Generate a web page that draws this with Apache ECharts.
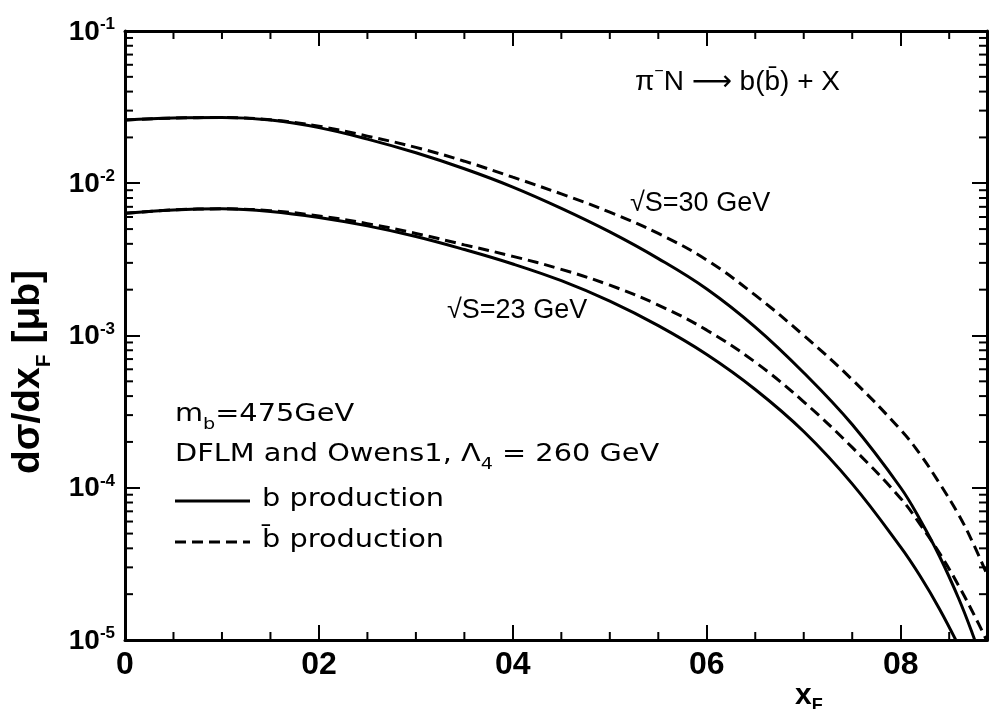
<!DOCTYPE html>
<html><head><meta charset="utf-8">
<script src="https://cdn.jsdelivr.net/npm/echarts@6/dist/echarts.min.js"></script>
<style>html,body{margin:0;padding:0;background:#fff}#c{width:991px;height:709px}</style>
</head><body><div id="c"></div>
<script>
// ---- tick labels ----
const xTickValues = [0, 0.2, 0.4, 0.6, 0.8];
const xTickLabels = ['0', '02', '04', '06', '08'];
const yTickValues = [1e-5, 1e-4, 1e-3, 1e-2, 1e-1];
const yTickExponents = ['-5', '-4', '-3', '-2', '-1'];
const xMinorTicks = [0.05, 0.1, 0.15, 0.25, 0.3, 0.35, 0.45, 0.5, 0.55, 0.65, 0.7, 0.75, 0.85];
const yMinorTicks = [2e-5,3e-5,4e-5,5e-5,6e-5,7e-5,8e-5,9e-5,
                     2e-4,3e-4,4e-4,5e-4,6e-4,7e-4,8e-4,9e-4,
                     2e-3,3e-3,4e-3,5e-3,6e-3,7e-3,8e-3,9e-3,
                     2e-2,3e-2,4e-2,5e-2,6e-2,7e-2,8e-2,9e-2];

// ---- sqrt(S)=30 GeV, b production (solid) ----
const x30b = [0, 0.05, 0.1, 0.15, 0.2, 0.25, 0.3, 0.35, 0.4, 0.45, 0.5, 0.55, 0.6, 0.65, 0.7, 0.75, 0.8, 0.82, 0.84, 0.86, 0.874, 0.885];
const y30b = [0.0260, 0.0268, 0.0270, 0.0260, 0.0232, 0.0195, 0.01585, 0.01245, 0.00944, 0.00684, 0.00479, 0.00320, 0.00202, 0.001135, 5.69e-4, 2.60e-4, 1.0e-4, 6.17e-5, 3.55e-5, 1.86e-5, 1.10e-5, 6.92e-6];
// ---- sqrt(S)=30 GeV, bbar production (dashed) ----
const x30bbar = [0, 0.05, 0.1, 0.15, 0.2, 0.25, 0.3, 0.35, 0.4, 0.45, 0.5, 0.55, 0.6, 0.65, 0.7, 0.75, 0.8, 0.82, 0.84, 0.86, 0.875, 0.889];
const y30bbar = [0.0260, 0.0268, 0.0270, 0.0261, 0.0237, 0.0204, 0.0172, 0.01396, 0.01096, 0.00851, 0.00646, 0.00468, 0.00313, 0.00184, 1.0e-3, 5.13e-4, 2.40e-4, 1.66e-4, 1.07e-4, 6.61e-5, 4.27e-5, 2.69e-5];
// ---- sqrt(S)=23 GeV, b production (solid) ----
const x23b = [0, 0.05, 0.1, 0.15, 0.2, 0.25, 0.3, 0.35, 0.4, 0.45, 0.5, 0.55, 0.6, 0.65, 0.7, 0.75, 0.8, 0.82, 0.84, 0.86];
const y23b = [0.00635, 0.00668, 0.00679, 0.00653, 0.00596, 0.00525, 0.00447, 0.00367, 0.00295, 0.00229, 0.00168, 0.00116, 7.50e-4, 4.42e-4, 2.34e-4, 1.06e-4, 4.07e-5, 2.63e-5, 1.60e-5, 9.12e-6];
// ---- sqrt(S)=23 GeV, bbar production (dashed) ----
const x23bbar = [0, 0.05, 0.1, 0.15, 0.2, 0.25, 0.3, 0.35, 0.4, 0.45, 0.5, 0.55, 0.6, 0.65, 0.7, 0.75, 0.8, 0.82, 0.84, 0.86, 0.88, 0.895];
const y23bbar = [0.00635, 0.00668, 0.00679, 0.00661, 0.00610, 0.00543, 0.00468, 0.00394, 0.00331, 0.00272, 0.00214, 0.001585, 0.001084, 6.68e-4, 3.67e-4, 1.84e-4, 8.51e-5, 5.75e-5, 3.72e-5, 2.26e-5, 1.29e-5, 8.13e-6];

const FONT = '"Liberation Sans", "DejaVu Sans", sans-serif';
const LFONT = '"DejaVu Sans", "Liberation Sans", sans-serif';
const LSCALE = 1.2;
const pairs = (xs, ys) => xs.map((x, i) => [x, ys[i]]);

function curve(name, xs, ys, dashed) {
  return {
    name, type: 'line', data: pairs(xs, ys), showSymbol: false, smooth: 0.4,
    silent: true, z: 3, clip: true,
    lineStyle: { color: '#000', width: 3, type: dashed ? [11, 6] : 'solid' }
  };
}

const chart = echarts.init(document.getElementById('c'), null, { renderer: 'canvas' });

const axisLine = { show: true, onZero: false, lineStyle: { color: '#000', width: 3 } };
const majorTick = { show: true, inside: true, length: 15, lineStyle: { color: '#000', width: 2 } };

const option = {
  backgroundColor: '#fff',
  animation: false,
  grid: { left: 125, right: 4, top: 31, bottom: 69 },
  xAxis: [
    { type: 'value', min: 0, max: 0.889, interval: 0.2, position: 'bottom',
      axisLine, axisTick: majorTick, splitLine: { show: false },
      axisLabel: { color: '#000', fontSize: 32, fontWeight: 'bold', fontFamily: FONT, margin: 9,
        formatter: v => { const i = xTickValues.findIndex(t => Math.abs(t - v) < 1e-6); return i >= 0 ? xTickLabels[i] : ''; } } },
    { type: 'value', min: 0, max: 0.889, interval: 0.2, position: 'top',
      axisLine, axisTick: majorTick, splitLine: { show: false }, axisLabel: { show: false } }
  ],
  yAxis: [
    { type: 'log', logBase: 10, min: 1e-5, max: 1e-1, position: 'left',
      axisLine, axisTick: majorTick, splitLine: { show: false },
      axisLabel: { color: '#000', fontFamily: FONT, margin: 10,
        formatter: v => { const i = yTickValues.findIndex(t => Math.abs(Math.log10(t) - Math.log10(v)) < 1e-6); return i >= 0 ? '{b|10}{s|' + yTickExponents[i] + '}' : ''; },
        rich: {
          b: { fontSize: 28, fontWeight: 'bold', fontFamily: FONT, color: '#000', lineHeight: 30, verticalAlign: 'bottom' },
          s: { fontSize: 17, fontWeight: 'bold', fontFamily: FONT, color: '#000', lineHeight: 30, verticalAlign: 'top', padding: [0, 0, 12, 0] }
        } } },
    { type: 'log', logBase: 10, min: 1e-5, max: 1e-1, position: 'right',
      axisLine, axisTick: majorTick, splitLine: { show: false }, axisLabel: { show: false } }
  ],
  series: [
    curve('b production, √S=30 GeV', x30b, y30b, false),
    curve('b̄ production, √S=30 GeV', x30bbar, y30bbar, true),
    curve('b production, √S=23 GeV', x23b, y23b, false),
    curve('b̄ production, √S=23 GeV', x23bbar, y23bbar, true),
    { type: 'custom', name: 'yMinor', silent: true, clip: false, z: 5,
      data: yMinorTicks.map(v => [0, v]),
      renderItem: (params, api) => {
        const cs = params.coordSys; const y = api.coord([0, api.value(1)])[1];
        const st = { stroke: '#000', lineWidth: 2 };
        return { type: 'group', children: [
          { type: 'line', shape: { x1: cs.x, y1: y, x2: cs.x + 8, y2: y }, style: st },
          { type: 'line', shape: { x1: cs.x + cs.width, y1: y, x2: cs.x + cs.width - 8, y2: y }, style: st }
        ] };
      } },
    { type: 'custom', name: 'xMinor', silent: true, clip: false, z: 5,
      data: xMinorTicks.map(v => [v, 1e-5]),
      renderItem: (params, api) => {
        const cs = params.coordSys; const x = api.coord([api.value(0), 1e-5])[0];
        const st = { stroke: '#000', lineWidth: 2 };
        return { type: 'group', children: [
          { type: 'line', shape: { x1: x, y1: cs.y + cs.height, x2: x, y2: cs.y + cs.height - 8 }, style: st },
          { type: 'line', shape: { x1: x, y1: cs.y, x2: x, y2: cs.y + 8 }, style: st }
        ] };
      } }
  ],
  graphic: [
    // y-axis title
    { type: 'text', x: 32, y: 372, rotation: Math.PI / 2,
      style: { text: '{n|dσ/dx}{sub|F}{n| [μb]}', align: 'center', verticalAlign: 'middle',
        rich: { n: { fontSize: 39, fontWeight: 'bold', fontFamily: FONT, fill: '#000', lineHeight: 46, verticalAlign: 'top' },
                sub: { fontSize: 21, fontWeight: 'bold', fontFamily: FONT, fill: '#000', lineHeight: 21, verticalAlign: 'bottom' } } } },
    // x-axis title
    { type: 'text', x: 795, y: 698,
      style: { text: '{n|x}{sub|F}', align: 'left', verticalAlign: 'middle',
        rich: { n: { fontSize: 30, fontWeight: 'bold', fontFamily: FONT, fill: '#000', lineHeight: 34, verticalAlign: 'top' },
                sub: { fontSize: 18, fontWeight: 'bold', fontFamily: FONT, fill: '#000', lineHeight: 18, verticalAlign: 'bottom' } } } },
    // reaction
    { type: 'text', x: 635, y: 80,
      style: { text: '{n|π}{sup|−}{n|N ⟶ b(b̄) + X}', align: 'left', verticalAlign: 'middle',
        rich: { n: { fontSize: 28, fontFamily: FONT, fill: '#000', lineHeight: 32, verticalAlign: 'bottom' },
                sup: { fontSize: 16, fontFamily: FONT, fill: '#000', lineHeight: 32, verticalAlign: 'top' } } } },
    { type: 'text', x: 630, y: 204,
      style: { text: '√S=30 GeV', align: 'left', verticalAlign: 'middle', fontSize: 27, fontFamily: FONT, fill: '#000' } },
    { type: 'text', x: 447, y: 311,
      style: { text: '√S=23 GeV', align: 'left', verticalAlign: 'middle', fontSize: 27, fontFamily: FONT, fill: '#000' } },
    { type: 'text', x: 175, y: 418, scaleX: LSCALE,
      style: { text: '{n|m}{sub|b}{n|=475GeV}', align: 'left', verticalAlign: 'middle',
        rich: { n: { fontSize: 24, fontFamily: LFONT, fill: '#000', lineHeight: 30, verticalAlign: 'top' },
                sub: { fontSize: 16, fontFamily: LFONT, fill: '#000', lineHeight: 16, verticalAlign: 'bottom' } } } },
    { type: 'text', x: 175, y: 458, scaleX: LSCALE,
      style: { text: '{n|DFLM and Owens1, Λ}{sub|4}{n| = 260 GeV}', align: 'left', verticalAlign: 'middle',
        rich: { n: { fontSize: 24, fontFamily: LFONT, fill: '#000', lineHeight: 30, verticalAlign: 'top' },
                sub: { fontSize: 16, fontFamily: LFONT, fill: '#000', lineHeight: 16, verticalAlign: 'bottom' } } } },
    { type: 'line', shape: { x1: 175, y1: 501, x2: 250, y2: 501 }, style: { stroke: '#000', lineWidth: 3 } },
    { type: 'text', x: 262, y: 500, scaleX: LSCALE,
      style: { text: 'b production', align: 'left', verticalAlign: 'middle', fontSize: 24, fontFamily: LFONT, fill: '#000' } },
    { type: 'line', shape: { x1: 175, y1: 542, x2: 250, y2: 542 }, style: { stroke: '#000', lineWidth: 3, lineDash: [11, 6] } },
    { type: 'text', x: 262, y: 541, scaleX: LSCALE,
      style: { text: 'b̄ production', align: 'left', verticalAlign: 'middle', fontSize: 24, fontFamily: LFONT, fill: '#000' } }
  ]
};
chart.setOption(option);
</script>
</body></html>
